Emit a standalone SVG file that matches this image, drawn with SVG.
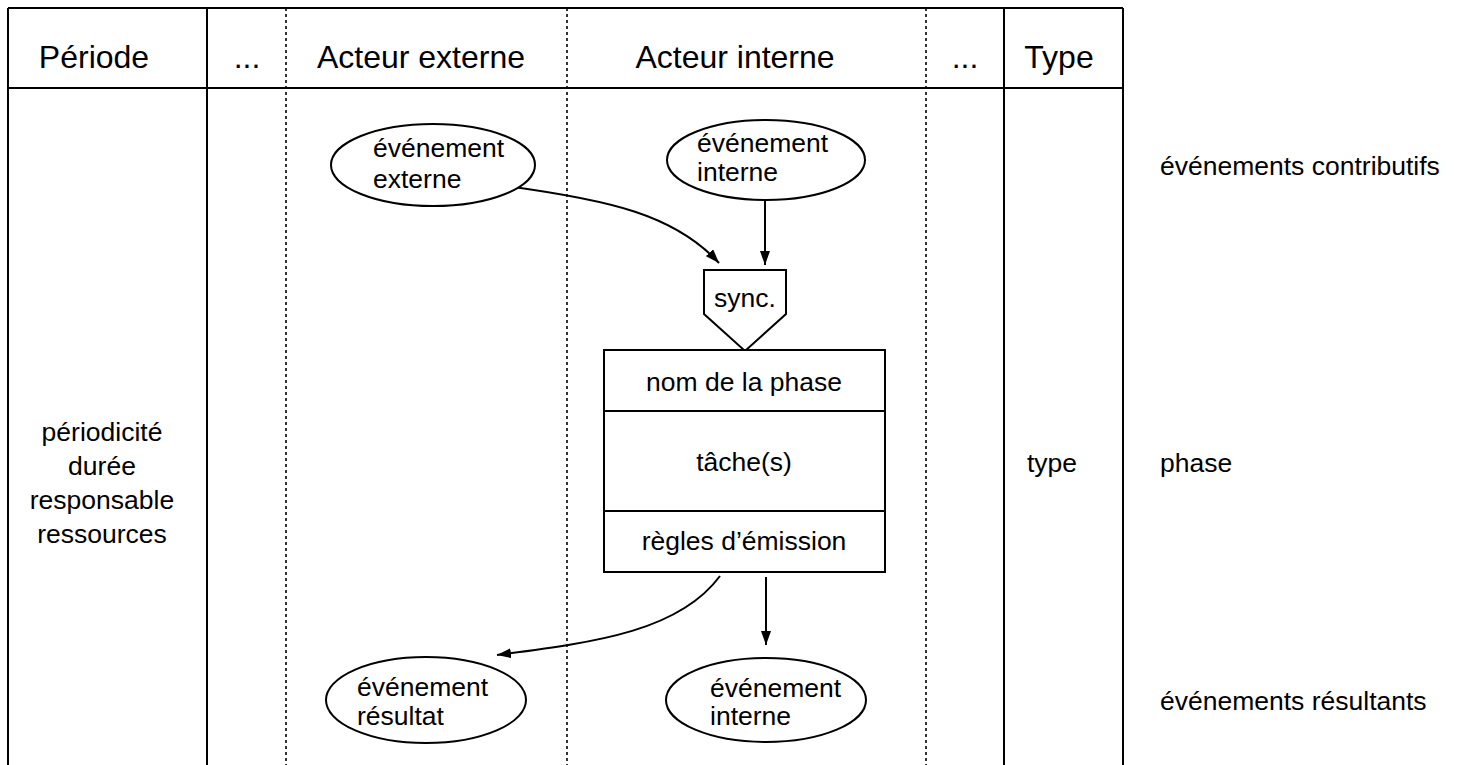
<svg xmlns="http://www.w3.org/2000/svg" width="1461" height="765" viewBox="0 0 1461 765">
<defs>
<marker id="arr" viewBox="0 0 14 10" refX="14" refY="5" markerWidth="14" markerHeight="10" markerUnits="userSpaceOnUse" orient="auto">
<path d="M0,0 L14,5 L0,10 Z" fill="#000"/>
</marker>
<style>
text{font-family:"Liberation Sans",Arial,sans-serif;fill:#000}
.h{font-size:32px;text-anchor:middle}
.t{font-size:26.5px}
.c{text-anchor:middle}
.solid{stroke:#000;stroke-width:2;fill:none}
.dot{stroke:#000;stroke-width:1.6;stroke-dasharray:3,3;fill:none}
.shape{stroke:#000;stroke-width:2;fill:#fff}
.conn{stroke:#000;stroke-width:2;fill:none;marker-end:url(#arr)}
</style>
</defs>
<rect width="1461" height="765" fill="#fff"/>
<g id="table">
<line class="solid" x1="8" y1="8" x2="1123" y2="8"/>
<line class="solid" x1="8" y1="88" x2="1123" y2="88"/>
<line class="solid" x1="8" y1="8" x2="8" y2="765"/>
<line class="solid" x1="207" y1="8" x2="207" y2="765"/>
<line class="dot" x1="286" y1="8" x2="286" y2="765"/>
<line class="dot" x1="567" y1="8" x2="567" y2="765"/>
<line class="dot" x1="926" y1="8" x2="926" y2="765"/>
<line class="solid" x1="1004" y1="8" x2="1004" y2="765"/>
<line class="solid" x1="1123" y1="8" x2="1123" y2="765"/>
<text class="h" x="94" y="68">Période</text>
<text class="h" x="247" y="68">...</text>
<text class="h" x="421" y="68">Acteur externe</text>
<text class="h" x="735" y="68">Acteur interne</text>
<text class="h" x="965" y="68">...</text>
<text class="h" x="1059" y="68">Type</text>
<text class="t c" x="102" y="441">périodicité</text>
<text class="t c" x="102" y="475">durée</text>
<text class="t c" x="102" y="509">responsable</text>
<text class="t c" x="102" y="543">ressources</text>
<text class="t c" x="1052" y="472">type</text>
</g>
<g id="labels">
<text class="t" x="1160" y="175">événements contributifs</text>
<text class="t" x="1160" y="472">phase</text>
<text class="t" x="1160" y="710">événements résultants</text>
</g>
<g id="connectors">
<path class="conn" d="M506,186 C610,200 675,215 719,263"/>
<path class="conn" d="M765,197 L765,265"/>
<path class="conn" d="M720,576 C680,630 600,642 497,655"/>
<path class="conn" d="M766,577 L766,645"/>
</g>
<g id="ev-externe">
<ellipse class="shape" cx="433" cy="165" rx="102" ry="41"/>
<text class="t" x="373" y="157">événement</text>
<text class="t" x="373" y="188">externe</text>
</g>
<g id="ev-interne-top">
<ellipse class="shape" cx="766" cy="160" rx="99" ry="40"/>
<text class="t" x="697" y="152">événement</text>
<text class="t" x="697" y="181">interne</text>
</g>
<g id="sync">
<polygon class="shape" points="704,270 786,270 786,314 745,351 704,314"/>
<text class="t c" x="745" y="307">sync.</text>
</g>
<g id="phase">
<rect class="shape" x="604" y="350" width="281" height="222"/>
<line class="solid" x1="604" y1="411" x2="885" y2="411"/>
<line class="solid" x1="604" y1="511" x2="885" y2="511"/>
<text class="t c" x="744" y="391">nom de la phase</text>
<text class="t c" x="744" y="471">tâche(s)</text>
<text class="t c" x="744" y="550">règles d’émission</text>
</g>
<g id="ev-resultat">
<ellipse class="shape" cx="426" cy="700" rx="100" ry="43"/>
<text class="t" x="357" y="696">événement</text>
<text class="t" x="357" y="725">résultat</text>
</g>
<g id="ev-interne-bottom">
<ellipse class="shape" cx="766" cy="700" rx="100" ry="42"/>
<text class="t" x="710" y="697">événement</text>
<text class="t" x="710" y="725">interne</text>
</g>
</svg>
